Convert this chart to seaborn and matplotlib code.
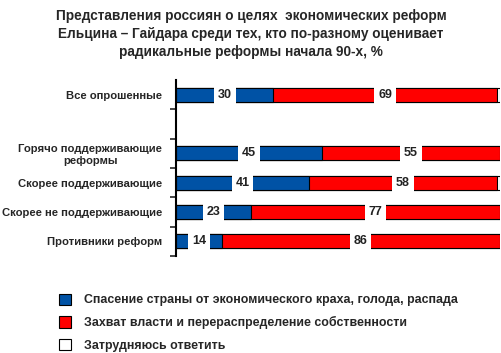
import numpy as np
import pandas as pd
import seaborn as sns
import matplotlib.pyplot as plt
from matplotlib.patches import Patch

# data
groups = ['Все опрошенные', ' ', 'Горячо поддерживающие\nреформы', 'Скорее поддерживающие',
          'Скорее не поддерживающие', 'Противники реформ']
rescue = [30, np.nan, 45, 41, 23, 14]
seize = [69, np.nan, 55, 58, 77, 86]
unsure = [1, np.nan, 0, 1, 0, 0]
legend_labels = ['Спасение страны от экономического краха, голода, распада',
                 'Захват власти и перераспределение собственности',
                 'Затрудняюсь ответить']

blue = '#0052A5'
red = '#FF0000'

sns.set_style('white')
plt.rcParams['font.family'] = ['Liberation Sans', 'DejaVu Sans']

df = pd.DataFrame({'group': groups, 'rescue': rescue, 'seize': seize, 'unsure': unsure})
df['c2'] = df['rescue'] + df['seize']
df['c3'] = df['c2'] + df['unsure']

fig = plt.figure(figsize=(5.02, 3.53), dpi=100)
ax = fig.add_axes([0.351, 0.275, 0.645, 0.498])

kw = dict(data=df, y='group', order=groups, orient='h', width=0.47, saturation=1,
          edgecolor='black', linewidth=0.8, ax=ax)
sns.barplot(x='c3', color='white', **kw)
sns.barplot(x='c2', color=red, **kw)
sns.barplot(x='rescue', color=blue, **kw)

for i, row in df.iterrows():
    if np.isnan(row['rescue']):
        continue
    for x, v in [(row['rescue'] / 2, row['rescue']),
                 (row['rescue'] + row['seize'] / 2, row['seize'])]:
        ax.text(x, i, f'{v:.0f}', ha='center', va='center', fontsize=9,
                fontweight='bold', color='#222222',
                bbox=dict(boxstyle='square,pad=0.3', fc='white', ec='none'))

ax.set_xlim(0, 100)
ax.set_ylim(len(groups) - 0.5, -0.5)
ax.set_xlabel('')
ax.set_ylabel('')
ax.set_xticks([])
sns.despine(ax=ax, top=True, right=True, bottom=True)
ax.spines['left'].set_linewidth(1.5)
ax.spines['left'].set_color('black')
ax.tick_params(axis='y', which='major', length=0, pad=10)
ax.set_yticks(np.arange(len(groups)) + 0.5, minor=True)
ax.tick_params(axis='y', which='minor', length=4, width=1.2, direction='out', left=True)
for lab in ax.get_yticklabels():
    lab.set_fontsize(8.1)
    lab.set_fontweight('bold')
    lab.set_multialignment('center')

fig.text(0.5, 0.975, 'Представления россиян о целях  экономических реформ\n'
         'Ельцина – Гайдара среди тех, кто по-разному оценивает\n'
         'радикальные реформы начала 90-х, %', ha='center', va='top',
         fontsize=9.8, fontweight='bold', linespacing=1.35)

handles = [Patch(fc=blue, ec='black', lw=0.8), Patch(fc=red, ec='black', lw=0.8),
           Patch(fc='white', ec='black', lw=0.8)]
fig.legend(handles, legend_labels, loc='upper left', bbox_to_anchor=(0.095, 0.2),
           frameon=False, prop={'size': 8.9, 'weight': 'bold'}, handlelength=1.0,
           handleheight=1.0, handletextpad=1.0, labelspacing=0.8)

fig.savefig('out.png', dpi=100)
